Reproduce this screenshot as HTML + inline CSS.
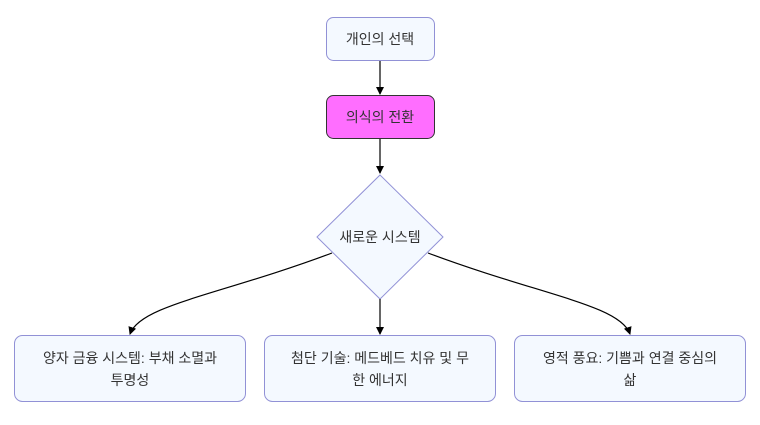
<!DOCTYPE html><html><head><meta charset="utf-8"><style>
body{margin:0;width:760px;height:420px;background:#fff;overflow:hidden}
svg text{font-family:"Liberation Sans","Noto Sans CJK KR",sans-serif;font-size:14px;fill:#333;text-anchor:middle}
</style></head><body>
<svg width="760" height="420" viewBox="0 0 760 420">
<defs><marker id="a" markerWidth="8" markerHeight="8" refX="7" refY="4" orient="auto" markerUnits="userSpaceOnUse"><path d="M0,0L8,4L0,8z" fill="#000"/></marker></defs>
<rect x="326.5" y="17.5" width="108" height="43" rx="7" fill="#f4f9ff" stroke="#9191d6"/>
<text x="380" y="44">개인의 선택</text>
<rect x="326.5" y="95.5" width="108" height="43" rx="7" fill="#ff6eff" stroke="#333"/>
<text x="380" y="122">의식의 전환</text>
<polygon points="380,175 443,237 380,299 317,237" fill="#f4f9ff" stroke="#9191d6"/>
<text x="380" y="242">새로운 시스템</text>
<g stroke="#000" stroke-width="1.2" fill="none" marker-end="url(#a)">
<path d="M380,61V94"/><path d="M380,139V173"/><path d="M380,299V334"/>
<path d="M332,253C220,295 140,305 130,334"/>
<path d="M428,253C540,295 620,305 630,334"/>
</g>
<rect x="14.5" y="335.5" width="231" height="66" rx="8" fill="#f4f9ff" stroke="#9191d6"/>
<text x="130" y="363">양자 금융 시스템: 부채 소멸과</text><text x="130" y="385">투명성</text>
<rect x="264.5" y="335.5" width="231" height="66" rx="8" fill="#f4f9ff" stroke="#9191d6"/>
<text x="380" y="363">첨단 기술: 메드베드 치유 및 무</text><text x="380" y="385">한 에너지</text>
<rect x="514.5" y="335.5" width="231" height="66" rx="8" fill="#f4f9ff" stroke="#9191d6"/>
<text x="630" y="363">영적 풍요: 기쁨과 연결 중심의</text><text x="630" y="385">삶</text>
</svg></body></html>
